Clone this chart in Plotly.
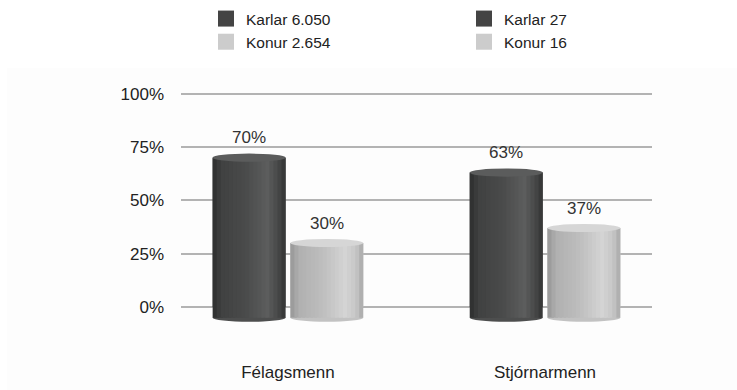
import plotly.graph_objects as go

# Data
categories = ["Félagsmenn", "Stjórnarmenn"]
karlar_pct = [70, 63]
konur_pct = [30, 37]
karlar_count = ["6.050", "27"]
konur_count = ["2.654", "16"]
y_ticks = [0, 25, 50, 75, 100]

# Styling
FONT = "Arial, Liberation Sans, sans-serif"
LEG_DARK = "#444444"
LEG_LIGHT = "#cccccc"
# horizontal shading profile across a cylinder: (position, rgb)
DARK_PROFILE = [(0.0, (44, 45, 45)), (0.12, (64, 65, 65)), (0.45, (74, 75, 75)),
                (0.75, (92, 93, 93)), (0.9, (70, 71, 71)), (1.0, (50, 51, 51))]
LIGHT_PROFILE = [(0.0, (150, 150, 150)), (0.12, (176, 176, 176)), (0.45, (190, 190, 190)),
                 (0.75, (212, 212, 212)), (0.9, (198, 198, 198)), (1.0, (168, 168, 168))]
DARK_TOP = "#5b5c5c"
LIGHT_TOP = "#d6d6d6"

BARGAP = 0.396
BARGROUPGAP = 0.06
slot = (1 - BARGAP) / 2
bar_w = slot * (1 - BARGROUPGAP)
ell_h = 1.9     # half-height of the cylinder caps, in axis units
base_ext = 5.0  # depth of the cylinder foot below zero
N_STRIPS = 18


def shade(profile, t):
    for (p0, c0), (p1, c1) in zip(profile, profile[1:]):
        if p0 <= t <= p1:
            f = (t - p0) / (p1 - p0)
            c = [round(a + (b - a) * f) for a, b in zip(c0, c1)]
            return "rgb({},{},{})".format(*c)
    return "rgb({},{},{})".format(*profile[-1][1])


fig = go.Figure()

for i, cat in enumerate(categories):
    fig.add_trace(go.Bar(
        x=[cat], y=[karlar_pct[i]], name=f"Karlar {karlar_count[i]}",
        offsetgroup="karlar", marker=dict(color=LEG_DARK, line=dict(width=0)),
        showlegend=False, hoverinfo="skip",
    ))
    fig.add_trace(go.Bar(
        x=[cat], y=[konur_pct[i]], name=f"Konur {konur_count[i]}",
        offsetgroup="konur", marker=dict(color=LEG_LIGHT, line=dict(width=0)),
        showlegend=False, hoverinfo="skip",
    ))

# legend entries: one legend per category, square swatches
legends = ["legend", "legend2"]
for i in range(len(categories)):
    for name, col in ((f"Karlar {karlar_count[i]}", LEG_DARK),
                      (f"Konur {konur_count[i]}", LEG_LIGHT)):
        fig.add_trace(go.Scatter(
            x=[None], y=[None], mode="markers", name=name, legend=legends[i],
            marker=dict(symbol="square", size=16, color=col, line=dict(width=0)),
            hoverinfo="skip",
        ))

# Cylinder bodies, shading and caps drawn over the bar geometry
shapes = []
annotations = []
series = [
    (karlar_pct, -slot / 2, DARK_PROFILE, DARK_TOP),
    (konur_pct, slot / 2, LIGHT_PROFILE, LIGHT_TOP),
]
for vals, off, profile, top in series:
    for i, v in enumerate(vals):
        xc = i + off
        x0, x1 = xc - bar_w / 2, xc + bar_w / 2
        w = x1 - x0
        # rounded foot below zero
        shapes.append(dict(type="circle", xref="x", yref="y", x0=x0, x1=x1,
                           y0=-base_ext - ell_h, y1=-base_ext + ell_h,
                           fillcolor=shade(profile, 0.5), line=dict(width=0),
                           layer="above"))
        # body as overlapping strips so no seams show
        for k in range(N_STRIPS):
            t0 = k / N_STRIPS
            t1 = min(1.0, (k + 1.6) / N_STRIPS)
            shapes.append(dict(type="rect", xref="x", yref="y",
                               x0=x0 + t0 * w, x1=x0 + t1 * w,
                               y0=-base_ext, y1=v,
                               fillcolor=shade(profile, (k + 0.5) / N_STRIPS),
                               line=dict(width=0), layer="above"))
        # top cap
        shapes.append(dict(type="circle", xref="x", yref="y", x0=x0, x1=x1,
                           y0=v - ell_h, y1=v + ell_h, fillcolor=top,
                           line=dict(width=0), layer="above"))
        annotations.append(dict(x=xc, y=v, xref="x", yref="y", text=f"{v}%",
                                showarrow=False, yshift=20,
                                font=dict(family=FONT, size=17, color="#333333")))

# faint panel behind the chart
shapes.insert(0, dict(type="rect", xref="paper", yref="paper", x0=-0.369, x1=1.2,
                      y0=-0.2, y1=0.941, fillcolor="#fdfdfd",
                      line=dict(width=0), layer="below"))

legend_style = dict(
    orientation="v", xref="container", yref="container", xanchor="left",
    yanchor="top", font=dict(family=FONT, size=15.5, color="#222222"),
    bgcolor="rgba(0,0,0,0)", tracegroupgap=0, itemclick=False,
    itemsizing="trace",
)

fig.update_layout(
    width=737, height=390,
    margin=dict(l=181, r=85, t=51, b=51, autoexpand=False),
    paper_bgcolor="white", plot_bgcolor="rgba(0,0,0,0)",
    barmode="group", bargap=BARGAP, bargroupgap=BARGROUPGAP,
    showlegend=True,
    legend=dict(x=206 / 737, y=1 - 2 / 390, **legend_style),
    legend2=dict(x=464 / 737, y=1 - 2 / 390, **legend_style),
    font=dict(family=FONT, color="#222222"),
    shapes=shapes, annotations=annotations,
    xaxis=dict(type="category", categoryorder="array", categoryarray=categories,
               range=[-0.416, 1.416], showgrid=False, zeroline=False,
               showline=False, ticks="", ticklabelstandoff=21, tickangle=0,
               automargin=False,
               tickfont=dict(family=FONT, size=17, color="#222222")),
    yaxis=dict(range=[-15, 120], tickvals=y_ticks,
               ticktext=[f"{t}%" for t in y_ticks], showgrid=True,
               gridcolor="#b3b3b3", gridwidth=2, zeroline=False,
               showline=False, ticks="", ticklabelstandoff=16, automargin=False,
               tickfont=dict(family=FONT, size=17, color="#222222")),
)

fig.write_html("out.html")
